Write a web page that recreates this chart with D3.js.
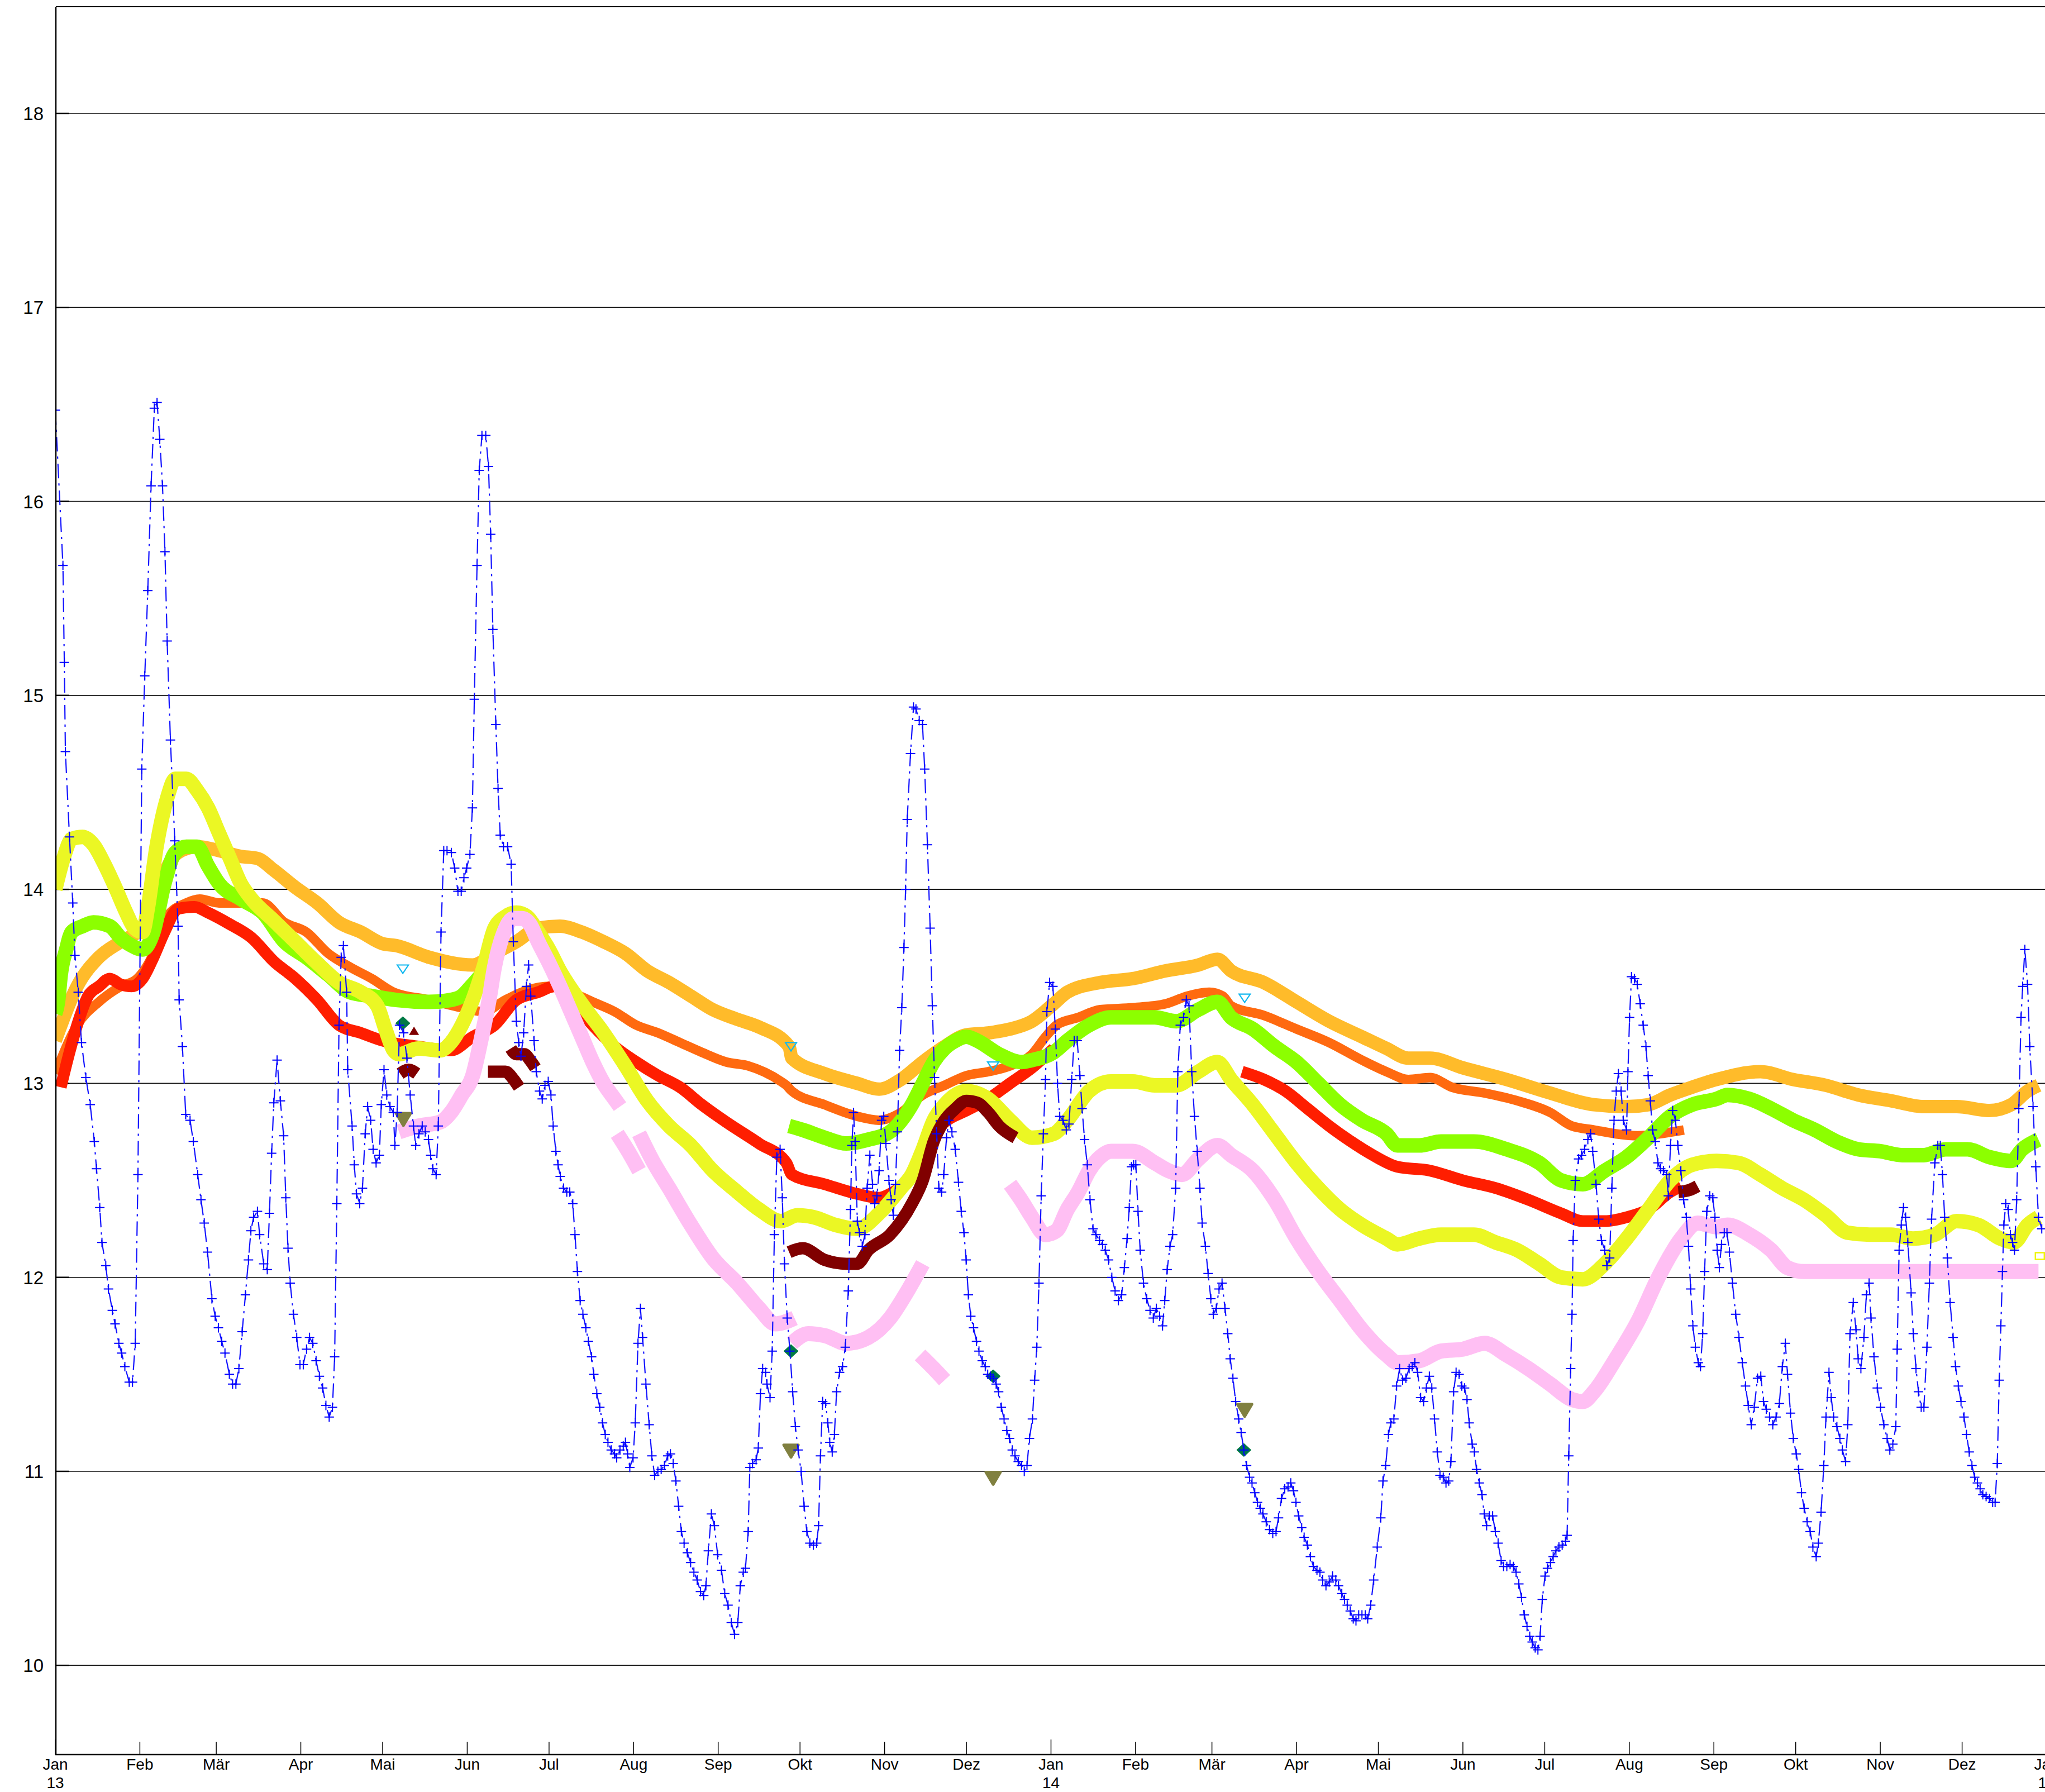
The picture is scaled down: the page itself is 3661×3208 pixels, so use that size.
<!DOCTYPE html>
<html><head><meta charset="utf-8">
<script src="https://cdn.jsdelivr.net/npm/d3@7"></script>
<style>html,body{margin:0;padding:0;background:#fff;} svg{display:block;}</style>
</head><body>
<script>
// ---------- DATA (day offset from 2013-01-01, value) ----------
const monthNames = ["Jan","Feb","Mär","Apr","Mai","Jun","Jul","Aug","Sep","Okt","Nov","Dez"];
const yTicks = [10,11,12,13,14,15,16,17,18];

const bluePlus = [[0,16.47],[2.8,15.67],[3.3,15.17],[3.7,14.71],[5.2,14.27],[6.4,13.93],[7.2,13.66],[8.4,13.47],[9.6,13.21],[11.2,13.03],[12.8,12.89],[14.3,12.70],[15.1,12.56],[16.3,12.36],[17.1,12.18],[18.5,12.06],[19.5,11.94],[20.9,11.83],[21.9,11.76],[23.3,11.66],[24.3,11.61],[25.5,11.54],[27.1,11.46],[28.3,11.46],[29.3,11.66],[30.3,12.53],[31.7,14.62],[32.8,15.10],[33.9,15.54],[35.1,16.08],[36.3,16.48],[37.3,16.51],[38.3,16.32],[39.3,16.08],[40.2,15.74],[41.0,15.28],[42.2,14.77],[43.8,14.25],[45.0,13.81],[45.4,13.43],[46.6,13.19],[47.8,12.84],[49.4,12.81],[50.6,12.70],[52.2,12.53],[53.4,12.40],[54.6,12.28],[55.8,12.13],[57.4,11.89],[58.6,11.80],[59.8,11.74],[61.0,11.67],[62.2,11.61],[63.8,11.50],[65.0,11.45],[66.2,11.45],[67.3,11.53],[68.5,11.72],[69.7,11.91],[70.8,12.09],[71.7,12.24],[72.7,12.31],[74.1,12.34],[74.9,12.22],[76.4,12.07],[77.7,12.04],[78.5,12.33],[79.3,12.64],[80.1,12.90],[81.3,13.12],[82.5,12.91],[83.7,12.73],[84.5,12.41],[85.3,12.15],[86.1,11.97],[87.3,11.81],[88.5,11.69],[89.7,11.55],[90.9,11.55],[92.1,11.63],[93.2,11.69],[94.4,11.66],[95.6,11.57],[96.8,11.49],[98.0,11.43],[99.2,11.34],[100.4,11.28],[101.6,11.33],[102.4,11.59],[103.2,12.38],[104.0,13.30],[104.8,13.65],[105.6,13.71],[106.8,13.47],[107.2,13.07],[108.8,12.78],[109.6,12.58],[110.4,12.43],[111.6,12.38],[112.6,12.46],[113.6,12.74],[114.5,12.88],[115.6,12.81],[116.5,12.66],[117.6,12.59],[118.8,12.63],[119.5,12.89],[120.5,13.07],[121.5,12.94],[122.7,12.88],[123.9,12.85],[124.5,12.68],[125.3,12.85],[126.2,13.30],[127.7,13.26],[128.9,13.13],[130.1,12.94],[131.3,12.78],[132.1,12.68],[133.3,12.74],[134.5,12.78],[135.6,12.75],[136.8,12.71],[137.6,12.63],[138.4,12.56],[139.6,12.53],[140.4,12.78],[141.4,13.78],[142.4,14.20],[143.6,14.20],[145.2,14.19],[146.4,14.11],[147.6,13.99],[148.8,13.99],[149.8,14.06],[150.8,14.11],[152.0,14.18],[152.9,14.42],[153.6,14.98],[154.6,15.67],[155.4,16.16],[156.4,16.34],[157.8,16.34],[158.8,16.18],[159.6,15.83],[160.4,15.34],[161.5,14.85],[162.3,14.52],[163.1,14.28],[164.3,14.22],[165.8,14.22],[167.1,14.13],[167.9,13.73],[169.0,13.32],[169.9,13.21],[170.7,13.14],[171.7,13.26],[172.7,13.50],[173.5,13.61],[174.3,13.45],[175.5,13.22],[176.3,13.06],[177.5,12.96],[178.5,12.92],[179.5,12.99],[180.7,13.01],[181.7,12.94],[182.5,12.78],[183.5,12.65],[184.3,12.58],[185.1,12.52],[186.3,12.46],[187.5,12.44],[188.6,12.44],[189.7,12.38],[190.5,12.22],[191.4,12.03],[192.4,11.88],[193.4,11.81],[194.5,11.74],[195.4,11.67],[196.6,11.59],[197.4,11.50],[198.5,11.40],[199.6,11.33],[200.6,11.25],[201.6,11.19],[202.6,11.15],[203.8,11.11],[205.0,11.09],[205.8,11.07],[207.0,11.11],[208.2,11.13],[209.0,11.15],[209.8,11.09],[210.6,11.02],[211.8,11.07],[212.6,11.25],[213.6,11.66],[214.5,11.84],[215.3,11.69],[216.5,11.45],[217.7,11.24],[218.7,11.08],[219.7,10.98],[220.9,11.00],[222.1,11.01],[223.3,11.03],[224.5,11.08],[225.5,11.09],[226.5,11.04],[227.5,10.95],[228.5,10.82],[229.5,10.69],[230.5,10.63],[231.7,10.58],[232.9,10.53],[234.1,10.48],[235.3,10.44],[236.5,10.38],[237.7,10.36],[238.5,10.41],[239.4,10.59],[240.5,10.78],[241.6,10.72],[242.8,10.57],[244.2,10.49],[245.4,10.37],[246.6,10.31],[247.8,10.22],[249.0,10.16],[250.2,10.22],[251.1,10.41],[252.2,10.48],[253.0,10.50],[254.0,10.69],[254.6,11.02],[255.6,11.04],[256.9,11.06],[257.7,11.12],[258.5,11.40],[259.3,11.53],[260.4,11.51],[260.9,11.45],[262.0,11.38],[262.8,11.62],[263.6,12.22],[264.5,12.62],[265.7,12.66],[266.5,12.41],[267.3,12.07],[268.3,11.79],[269.3,11.62],[270.3,11.41],[271.3,11.23],[272.3,11.11],[273.4,11.00],[274.5,10.82],[275.5,10.69],[276.6,10.63],[277.9,10.62],[279.1,10.63],[279.8,10.72],[280.5,11.08],[281.3,11.36],[282.4,11.35],[283.2,11.25],[283.9,11.15],[284.8,11.10],[285.6,11.19],[286.4,11.41],[287.5,11.51],[288.6,11.54],[289.6,11.64],[290.7,11.93],[291.5,12.35],[292.0,12.68],[292.6,12.85],[293.2,12.70],[294.0,12.29],[294.8,12.23],[295.8,12.16],[296.8,12.22],[297.6,12.46],[298.6,12.63],[299.6,12.48],[300.4,12.38],[301.2,12.42],[302.0,12.55],[302.9,12.81],[303.7,12.83],[304.5,12.69],[305.6,12.50],[306.4,12.40],[307.2,12.32],[308.0,12.48],[308.7,12.75],[309.5,13.17],[310.3,13.39],[311.1,13.70],[311.7,14.00],[312.3,14.36],[313.5,14.70],[314.6,14.94],[315.5,14.93],[316.7,14.87],[317.9,14.85],[318.7,14.62],[319.7,14.23],[320.7,13.80],[321.5,13.40],[322.3,13.03],[323.1,12.74],[323.9,12.46],[324.9,12.44],[325.7,12.53],[326.7,12.72],[327.6,12.81],[328.7,12.75],[329.9,12.66],[331.1,12.49],[332.1,12.34],[333.1,12.23],[333.9,12.09],[334.7,11.91],[335.6,11.80],[336.6,11.74],[337.7,11.67],[338.6,11.62],[339.8,11.57],[340.9,11.54],[341.8,11.50],[342.8,11.49],[343.8,11.48],[344.9,11.45],[345.8,11.41],[346.8,11.33],[347.8,11.27],[348.8,11.21],[349.8,11.17],[350.8,11.11],[351.8,11.08],[353.0,11.05],[354.2,11.03],[355.2,11.00],[356.2,11.03],[357.1,11.17],[358.2,11.27],[359.0,11.47],[359.8,11.64],[360.6,11.97],[361.4,12.42],[362.2,12.74],[363.0,13.02],[363.5,13.37],[364.5,13.52],[365.7,13.50],[366.6,13.28],[367.4,13.00],[368.2,12.83],[369.4,12.81],[370.6,12.76],[371.6,12.79],[372.6,13.02],[373.5,13.22],[374.6,13.22],[375.6,13.04],[376.4,12.87],[377.3,12.71],[378.3,12.58],[379.3,12.40],[380.4,12.25],[381.5,12.22],[382.8,12.19],[383.9,12.17],[384.9,12.14],[386.1,12.09],[387.3,12.00],[388.5,11.93],[389.7,11.88],[390.9,11.91],[391.9,12.05],[392.9,12.20],[393.7,12.36],[394.5,12.57],[395.3,12.58],[396.1,12.58],[396.9,12.34],[397.7,12.14],[398.9,11.97],[400.1,11.89],[401.3,11.83],[402.5,11.79],[403.6,11.84],[404.8,11.80],[405.9,11.75],[406.7,11.88],[407.6,12.04],[408.6,12.16],[409.6,12.22],[410.7,12.46],[411.5,13.06],[412.4,13.30],[413.6,13.34],[414.6,13.43],[415.6,13.40],[416.6,13.06],[417.6,12.83],[418.6,12.65],[419.6,12.46],[420.4,12.28],[421.6,12.16],[422.6,12.02],[423.6,11.89],[424.5,11.81],[425.6,11.84],[426.6,11.94],[427.7,11.97],[428.8,11.84],[429.8,11.71],[430.7,11.58],[431.7,11.48],[432.7,11.36],[433.8,11.27],[434.7,11.20],[435.7,11.11],[436.7,11.03],[437.8,10.97],[438.7,10.94],[439.7,10.89],[440.7,10.84],[441.7,10.81],[442.7,10.78],[443.9,10.74],[445.1,10.70],[446.3,10.68],[447.5,10.69],[448.4,10.76],[449.5,10.86],[450.7,10.91],[451.9,10.92],[452.9,10.94],[453.9,10.90],[454.8,10.84],[455.8,10.77],[456.9,10.71],[457.8,10.66],[459.0,10.62],[460.1,10.56],[461.2,10.51],[462.5,10.49],[463.6,10.48],[464.6,10.44],[465.8,10.41],[467.0,10.43],[468.2,10.46],[469.4,10.44],[470.4,10.41],[471.6,10.37],[472.6,10.34],[473.6,10.31],[474.7,10.28],[475.8,10.24],[476.8,10.23],[477.8,10.26],[479.0,10.26],[480.2,10.26],[481.1,10.24],[482.2,10.31],[483.3,10.44],[484.6,10.61],[485.9,10.76],[486.7,10.95],[487.7,11.03],[488.7,11.19],[489.6,11.25],[490.7,11.27],[491.7,11.44],[492.8,11.53],[493.9,11.47],[495.1,11.48],[496.3,11.53],[497.4,11.54],[498.4,11.56],[499.4,11.51],[500.5,11.38],[501.6,11.36],[502.6,11.43],[503.7,11.49],[504.6,11.43],[505.6,11.27],[506.6,11.10],[507.6,10.98],[508.8,10.97],[509.8,10.94],[510.8,10.95],[511.6,11.05],[512.6,11.41],[513.5,11.51],[514.6,11.50],[515.6,11.44],[516.6,11.43],[517.5,11.37],[518.3,11.25],[519.4,11.14],[520.2,11.10],[521.0,11.01],[522.0,10.94],[523.0,10.88],[523.8,10.78],[524.7,10.72],[525.7,10.77],[526.9,10.77],[527.9,10.69],[528.9,10.63],[530.0,10.54],[530.9,10.51],[532.1,10.51],[533.3,10.52],[534.5,10.51],[535.5,10.48],[536.5,10.42],[537.5,10.35],[538.5,10.26],[539.5,10.20],[540.5,10.15],[541.4,10.12],[542.5,10.09],[543.5,10.08],[544.3,10.15],[545.1,10.34],[546.1,10.46],[547.0,10.50],[548.1,10.53],[549.1,10.56],[550.1,10.59],[551.2,10.61],[552.4,10.62],[553.6,10.64],[554.2,10.67],[554.8,11.08],[555.5,11.53],[556.0,11.81],[556.4,12.19],[557.2,12.50],[558.4,12.61],[559.5,12.63],[560.6,12.66],[561.8,12.71],[562.8,12.74],[563.6,12.65],[564.8,12.48],[565.8,12.30],[566.8,12.19],[568.0,12.14],[568.8,12.06],[569.8,12.10],[570.6,12.46],[571.4,12.81],[572.2,12.96],[573.0,13.05],[574.0,12.96],[574.8,12.81],[576.0,12.76],[576.5,13.06],[577.1,13.34],[577.8,13.55],[578.9,13.54],[579.9,13.51],[581.0,13.41],[582.1,13.30],[583.1,13.19],[583.9,13.04],[584.7,12.91],[585.5,12.76],[586.5,12.70],[587.5,12.59],[588.5,12.56],[589.5,12.55],[590.7,12.53],[591.3,12.42],[592.1,12.68],[592.9,12.86],[593.9,12.81],[594.8,12.68],[595.9,12.55],[596.9,12.40],[597.9,12.31],[598.7,12.16],[599.5,11.94],[600.3,11.75],[601.2,11.64],[602.3,11.56],[603.1,11.54],[603.9,11.71],[604.6,12.03],[605.4,12.34],[606.5,12.42],[607.6,12.41],[608.4,12.31],[609.2,12.14],[610.0,12.05],[610.8,12.17],[611.8,12.23],[612.8,12.23],[613.7,12.13],[614.8,11.97],[616.0,11.81],[617.2,11.69],[618.4,11.56],[619.6,11.44],[620.6,11.34],[621.7,11.24],[622.8,11.33],[624.0,11.48],[625.2,11.49],[626.2,11.36],[627.2,11.32],[628.4,11.28],[629.6,11.24],[630.8,11.28],[632.0,11.35],[633.1,11.54],[634.2,11.66],[635.0,11.50],[636.1,11.30],[637.1,11.17],[638.2,11.09],[639.1,11.01],[640.1,10.89],[641.1,10.81],[642.2,10.74],[643.3,10.69],[644.3,10.61],[645.5,10.56],[646.3,10.63],[647.3,10.79],[648.3,11.03],[649.1,11.28],[650.2,11.51],[651.0,11.38],[651.9,11.28],[653.1,11.23],[654.2,11.17],[655.1,11.11],[656.3,11.05],[657.1,11.24],[657.9,11.71],[659.1,11.87],[660.1,11.73],[660.9,11.58],[661.9,11.53],[663.0,11.69],[663.9,11.91],[664.9,11.97],[665.6,11.79],[666.7,11.59],[667.9,11.43],[669.1,11.33],[670.3,11.24],[671.5,11.17],[672.5,11.11],[673.6,11.14],[674.7,11.23],[675.2,11.63],[675.9,12.14],[676.7,12.27],[677.5,12.36],[678.3,12.31],[679.1,12.18],[680.3,11.92],[681.1,11.71],[682.1,11.53],[683.0,11.41],[684.0,11.33],[685.0,11.33],[686.1,11.64],[687.0,11.97],[687.8,12.30],[689.0,12.59],[690.1,12.68],[691.0,12.68],[691.8,12.53],[692.6,12.31],[693.6,12.10],[694.6,11.87],[695.7,11.69],[696.6,11.54],[697.6,11.44],[698.6,11.36],[699.7,11.28],[700.6,11.19],[701.6,11.10],[702.6,11.03],[703.6,10.97],[704.6,10.94],[705.6,10.91],[706.6,10.88],[707.8,10.87],[709.0,10.86],[710.2,10.84],[711.1,10.84],[711.9,11.04],[712.6,11.47],[713.2,11.75],[713.8,12.03],[714.3,12.27],[715.0,12.38],[715.9,12.35],[716.7,12.22],[717.5,12.18],[718.2,12.14],[719.0,12.40],[719.8,12.87],[720.6,13.34],[721.2,13.50],[722.0,13.69],[723.0,13.51],[723.8,13.19],[725.0,12.88],[726.0,12.57],[727.0,12.31],[728.2,12.25]];

const orangeCross = [[0,13.22],[8,13.50],[16,13.65],[24,13.73],[30,13.78],[36,13.90],[40,14.08],[45,14.19],[52,14.22],[60,14.20],[68,14.17],[74,14.16],[80,14.10],[88,14.01],[96,13.93],[104,13.83],[112,13.78],[120,13.72],[125,13.71],[137,13.65],[153,13.61],[161,13.67],[169,13.73],[177,13.80],[185,13.81],[193,13.78],[201,13.73],[209,13.67],[217,13.58],[225,13.52],[233,13.45],[241,13.38],[250,13.33],[258,13.29],[269,13.19],[270,13.13],[282,13.05],[294,13.00],[302,12.97],[310,13.02],[318,13.11],[326,13.19],[334,13.25],[342,13.26],[350,13.28],[358,13.32],[366,13.41],[371,13.47],[383,13.52],[395,13.54],[407,13.58],[419,13.61],[426,13.64],[431,13.58],[443,13.52],[455,13.42],[467,13.32],[479,13.24],[488,13.18],[496,13.13],[504,13.13],[516,13.08],[532,13.02],[548,12.95],[564,12.89],[576,12.88],[584,12.89],[592,12.94],[600,12.98],[609,13.02],[625,13.06],[637,13.02],[649,12.99],[661,12.94],[673,12.91],[685,12.88],[697,12.88],[709,12.86],[717,12.89],[723,12.96],[727,12.99]];

const darkOrangeCircle = [[0,13.05],[8,13.30],[16,13.42],[24,13.50],[30,13.54],[36,13.67],[41,13.86],[48,13.93],[53,13.95],[60,13.93],[68,13.93],[76,13.93],[84,13.83],[92,13.78],[100,13.67],[108,13.60],[116,13.54],[124,13.47],[137,13.43],[149,13.39],[157,13.37],[165,13.43],[173,13.48],[181,13.50],[189,13.47],[197,13.42],[205,13.37],[213,13.30],[221,13.26],[229,13.21],[237,13.16],[246,13.11],[254,13.09],[266,13.01],[268,12.99],[270,12.96],[282,12.89],[294,12.83],[302,12.81],[310,12.85],[318,12.94],[326,12.99],[334,13.04],[342,13.06],[350,13.09],[358,13.15],[363,13.24],[367,13.30],[375,13.34],[383,13.38],[395,13.39],[407,13.41],[415,13.45],[423,13.47],[428,13.45],[431,13.40],[443,13.35],[455,13.28],[467,13.21],[479,13.12],[488,13.06],[496,13.02],[504,13.03],[512,12.98],[524,12.95],[536,12.91],[548,12.85],[556,12.78],[564,12.76],[572,12.74],[580,12.73],[588,12.74],[597,12.76]];

const redTri1 = [[2,12.98],[5,13.15],[8,13.30],[12,13.45],[16,13.50],[20,13.54],[24,13.51],[28,13.50],[32,13.54],[36,13.65],[40,13.78],[45,13.90],[51,13.91],[56,13.88],[64,13.82],[72,13.75],[80,13.63],[88,13.54],[96,13.43],[104,13.30],[112,13.26],[120,13.22],[133,13.19],[145,13.17],[153,13.24],[161,13.30],[169,13.43],[177,13.47],[183,13.50],[189,13.43],[197,13.30],[205,13.19],[213,13.11],[221,13.04],[229,12.98],[237,12.89],[246,12.80],[258,12.69],[268,12.59],[270,12.53],[282,12.48],[294,12.43],[302,12.41],[306,12.43],[314,12.53],[318,12.63],[322,12.74],[326,12.80],[334,12.86],[342,12.92],[350,13.00],[358,13.08],[366,13.18]];
const redTri2 = [[435,13.06],[443,13.02],[451,12.96],[459,12.87],[467,12.78],[475,12.70],[483,12.63],[492,12.57],[504,12.55],[516,12.50],[528,12.46],[540,12.40],[552,12.33],[560,12.29],[568,12.29],[576,12.31],[584,12.35],[592,12.44],[596,12.47]];

const greenBox1 = [[0,13.36],[1,13.42],[2,13.56],[4,13.69],[6,13.78],[10,13.81],[14,13.83],[20,13.81],[24,13.75],[28,13.71],[32,13.69],[36,13.78],[40,14.03],[44,14.19],[48,14.22],[52,14.22],[56,14.12],[60,14.03],[68,13.95],[76,13.88],[84,13.73],[92,13.65],[100,13.56],[108,13.47],[116,13.45],[125,13.43],[137,13.42],[145,13.43],[149,13.45],[153,13.51],[157,13.57],[160,13.60]];
const greenBox2 = [[269,12.78],[274,12.76],[282,12.72],[290,12.69],[298,12.71],[306,12.75],[314,12.89],[318,13.00],[322,13.11],[326,13.18],[330,13.22],[334,13.24],[338,13.22],[346,13.15],[354,13.11],[358,13.12],[366,13.16],[371,13.22],[379,13.30],[387,13.34],[395,13.34],[403,13.34],[411,13.32],[419,13.38],[426,13.42],[431,13.34],[439,13.28],[447,13.19],[455,13.11],[463,13.00],[471,12.89],[479,12.81],[488,12.74],[492,12.68],[500,12.68],[508,12.70],[520,12.70],[532,12.66],[544,12.59],[552,12.50],[560,12.48],[568,12.55],[576,12.62],[584,12.72],[592,12.83],[600,12.89],[609,12.92],[613,12.94],[621,12.92],[629,12.87],[637,12.81],[645,12.76],[653,12.70],[661,12.66],[669,12.65],[677,12.63],[685,12.63],[693,12.66],[701,12.66],[709,12.62],[717,12.60],[721,12.66],[727,12.71]];

const yellowSquare = [[0,14.00],[3,14.16],[6,14.26],[10,14.27],[14,14.23],[18,14.13],[22,14.01],[26,13.88],[29,13.80],[32,13.78],[34,13.91],[37,14.21],[41,14.47],[44,14.57],[48,14.57],[52,14.51],[56,14.42],[60,14.29],[64,14.16],[68,14.03],[72,13.95],[80,13.84],[88,13.73],[96,13.62],[104,13.52],[112,13.47],[118,13.40],[121,13.28],[124,13.17],[126,13.15],[133,13.18],[141,13.17],[145,13.21],[149,13.30],[153,13.43],[157,13.60],[161,13.80],[165,13.86],[169,13.88],[173,13.86],[177,13.78],[181,13.69],[185,13.58],[193,13.41],[201,13.26],[209,13.09],[217,12.91],[225,12.78],[233,12.68],[241,12.55],[250,12.44],[258,12.35],[266,12.29],[272,12.32],[278,12.31],[286,12.27],[294,12.25],[302,12.33],[310,12.46],[314,12.53],[318,12.66],[322,12.81],[326,12.89],[334,12.96],[342,12.92],[350,12.81],[358,12.72],[366,12.74],[371,12.81],[379,12.96],[387,13.01],[395,13.01],[403,12.99],[411,12.99],[419,13.06],[426,13.11],[431,13.02],[439,12.89],[447,12.74],[455,12.59],[463,12.46],[471,12.35],[479,12.27],[488,12.20],[492,12.17],[500,12.20],[508,12.22],[520,12.22],[528,12.18],[536,12.14],[544,12.07],[552,12.00],[560,11.99],[568,12.07],[576,12.20],[584,12.35],[592,12.50],[600,12.58],[609,12.60],[617,12.59],[625,12.53],[633,12.46],[641,12.40],[649,12.32],[657,12.23],[665,12.22],[673,12.22],[681,12.20],[689,12.22],[697,12.29],[705,12.27],[713,12.20],[718,12.18],[723,12.27],[727,12.31]];
const yellowSingle = [[727.5,12.11]];

const pink1 = [[126,12.75],[133,12.78],[141,12.80],[145,12.85],[149,12.94],[153,13.04],[156,13.22],[159,13.43],[161,13.60],[164.5,13.78],[168,13.85],[171,13.85],[174,13.82],[177,13.73],[181,13.62],[185,13.50],[189,13.37],[193,13.24],[197,13.11],[201,13.00],[205,12.92],[207,12.88]];
const pink2 = [[206,12.74],[210,12.65],[214,12.55]];
const pink3 = [[214,12.74],[219,12.60],[225,12.46],[233,12.27],[241,12.10],[250,11.97],[258,11.84],[264,11.76],[271,11.79]];
const pink4 = [[270,11.66],[276,11.71],[282,11.70],[290,11.66],[298,11.69],[306,11.79],[312,11.92],[318,12.07]];
const pink5 = [[317,11.60],[322,11.53],[326,11.47]];
const pink6 = [[350,12.48],[354,12.40],[358,12.31],[363,12.22],[367,12.24],[371,12.35],[375,12.44],[379,12.55],[383,12.62],[387,12.65],[395,12.65],[403,12.59],[408,12.55],[413,12.53],[419,12.61],[426,12.68],[431,12.63],[439,12.55],[447,12.40],[455,12.20],[463,12.03],[471,11.88],[479,11.73],[488,11.60],[492,11.56],[500,11.57],[508,11.62],[516,11.63],[524,11.66],[532,11.60],[540,11.53],[548,11.45],[556,11.37],[560,11.36],[564,11.41],[572,11.58],[580,11.77],[588,12.01],[596,12.20],[602,12.28],[609,12.26],[613,12.27],[621,12.22],[629,12.14],[635,12.05],[641,12.03],[660,12.03],[680,12.03],[700,12.03],[727,12.03]];

const darkRed1 = [[126.4,13.05],[129.5,13.07],[132.5,13.05]];
const darkRed2 = [[158.6,13.06],[165,13.06],[168,13.02],[170,12.98]];
const darkRed3 = [[167,13.18],[169,13.15],[172,13.15],[174,13.12],[176,13.08]];
const darkRed4 = [[269,12.13],[274,12.15],[282,12.09],[290,12.07],[294,12.07],[298,12.14],[306,12.22],[314,12.38],[318,12.50],[322,12.70],[326,12.81],[330,12.87],[334,12.91],[338,12.90],[342,12.85],[346,12.78],[352,12.72]];
const darkRed5 = [[595,12.44],[599,12.45],[602,12.47]];

const cyanTriangle = [[127.4,13.59],[269.7,13.19],[343.8,13.09],[436,13.44]];
const tealDiamond = [[127.4,13.31],[269.7,11.62],[343.8,11.49],[435.7,11.11]];
const oliveTriangle = [[127.6,12.82],[269.7,11.11],[343.8,10.97],[436,11.32]];
const darkRedSmall = [[131.5,13.27]];

// ---------- LAYOUT ----------
const W = 3661, H = 3208;
const T0 = Date.UTC(2013,0,1);
const dateOf = d => new Date(T0 + d*864e5);
const x = d3.scaleUtc().domain([new Date(T0), new Date(Date.UTC(2015,0,1))]).range([99, 3664]);
const y = d3.scaleLinear().domain([9.54, 18.55]).range([3141, 12]);
const FONT = "'Liberation Sans', Arial, Helvetica, sans-serif";

const svg = d3.select("body").append("svg").attr("width", W).attr("height", H)
  .style("font-family", FONT);
svg.append("rect").attr("width", W).attr("height", H).attr("fill", "#fff");

svg.append("defs").append("clipPath").attr("id","plot")
  .append("rect").attr("x",100).attr("y",12).attr("width",W-100).attr("height",3141-12);

// grid lines
svg.append("g").selectAll("line").data(yTicks).join("line")
  .attr("x1",100).attr("x2",W).attr("y1",d=>y(d)).attr("y2",d=>y(d))
  .attr("stroke","#111").attr("stroke-width",1.6);
// y ticks (short thick)
svg.append("g").selectAll("line").data(yTicks).join("line")
  .attr("x1",100).attr("x2",124).attr("y1",d=>y(d)).attr("y2",d=>y(d))
  .attr("stroke","#000").attr("stroke-width",2.5);
// y labels
svg.append("g").selectAll("text").data(yTicks).join("text")
  .attr("x",78).attr("y",d=>y(d)+12).attr("text-anchor","end")
  .attr("font-size",33).attr("fill","#000").text(d=>d);

const plot = svg.append("g").attr("clip-path","url(#plot)");

const line = d3.line().x(d=>x(dateOf(d[0]))).y(d=>y(d[1])).curve(d3.curveMonotoneX);
function band(data, color, width, opacity){
  plot.append("path").datum(data).attr("d", line)
    .attr("fill","none").attr("stroke",color).attr("stroke-width",width)
    .attr("stroke-linejoin","round").attr("stroke-linecap","butt")
    .attr("stroke-opacity", opacity||1);
}
band(orangeCross, "#FFBB2A", 24);
band(darkOrangeCircle, "#FF6A10", 17);
band(redTri1, "#FF1E00", 21);
band(redTri2, "#FF1E00", 21);
band(greenBox1, "#8CFF00", 26);
band(greenBox2, "#8CFF00", 26);
band(yellowSquare, "#EBF724", 26);
plot.append("g").selectAll("rect").data(yellowSingle).join("rect")
  .attr("x",d=>x(dateOf(d[0]))-8).attr("y",d=>y(d[1])-6).attr("width",16).attr("height",12)
  .attr("fill","none").attr("stroke","#EEF500").attr("stroke-width",2.5);
[pink1,pink2,pink3,pink4,pink5,pink6].forEach(s=>band(s,"#FFBFF3",27));
[darkRed1,darkRed2,darkRed3,darkRed4,darkRed5].forEach(s=>band(s,"#800000",22));

// point markers
const px = d=>x(dateOf(d[0])), py = d=>y(d[1]);
plot.append("g").selectAll("path").data(cyanTriangle).join("path")
  .attr("transform",d=>`translate(${px(d)},${py(d)})`)
  .attr("d","M-10,-7L10,-7L0,8Z").attr("fill","none").attr("stroke","#10B8F0").attr("stroke-width",2.2);
plot.append("g").selectAll("path").data(tealDiamond).join("path")
  .attr("transform",d=>`translate(${px(d)},${py(d)})`)
  .attr("d","M0,-11L12,0L0,11L-12,0Z").attr("fill","#007A45").attr("stroke","#007A45").attr("stroke-width",2).attr("stroke-linejoin","round");
plot.append("g").selectAll("path").data(oliveTriangle).join("path")
  .attr("transform",d=>`translate(${px(d)},${py(d)})`)
  .attr("d","M-13,-9L13,-9L0,13Z").attr("fill","#808040").attr("stroke","#808040").attr("stroke-width",5).attr("stroke-linejoin","round");
plot.append("g").selectAll("path").data(darkRedSmall).join("path")
  .attr("transform",d=>`translate(${px(d)},${py(d)})`)
  .attr("d","M0,-8L9,7L-9,7Z").attr("fill","#800000");

// blue dash-dot series with plus markers
const blueLine = d3.line().x(px).y(py);
plot.append("path").datum(bluePlus).attr("d", blueLine)
  .attr("fill","none").attr("stroke","#1414FF").attr("stroke-width",2.2)
  .attr("stroke-dasharray","26,9,4,9");
plot.append("g").selectAll("path").data(bluePlus).join("path")
  .attr("transform",d=>`translate(${px(d)},${py(d)})`)
  .attr("d","M-8.5,0H8.5M0,-8.5V8.5").attr("stroke","#0000FF").attr("stroke-width",2);

// frame
svg.append("line").attr("x1",100).attr("x2",W).attr("y1",12).attr("y2",12).attr("stroke","#000").attr("stroke-width",2);
svg.append("line").attr("x1",100).attr("x2",100).attr("y1",12).attr("y2",3142).attr("stroke","#000").attr("stroke-width",2.5);
svg.append("line").attr("x1",99).attr("x2",W).attr("y1",3141).attr("y2",3141).attr("stroke","#000").attr("stroke-width",2.5);

// x ticks & labels
const months = d3.utcMonth.range(new Date(T0), new Date(Date.UTC(2015,0,2)));
const xg = svg.append("g");
xg.selectAll("line").data(months).join("line")
  .attr("x1",d=>x(d)).attr("x2",d=>x(d)).attr("y1",3141)
  .attr("y2",d=>d.getUTCMonth()===0?3114:3118)
  .attr("stroke","#000").attr("stroke-width",1.5);
xg.selectAll("text.m").data(months).join("text").attr("class","m")
  .attr("x",d=>x(d)).attr("y",3168).attr("text-anchor","middle").attr("font-size",28)
  .text(d=>monthNames[d.getUTCMonth()]);
xg.selectAll("text.yr").data(months.filter(d=>d.getUTCMonth()===0)).join("text").attr("class","yr")
  .attr("x",d=>x(d)).attr("y",3201).attr("text-anchor","middle").attr("font-size",28)
  .text(d=>String(d.getUTCFullYear()).slice(2));
</script>
</body></html>
